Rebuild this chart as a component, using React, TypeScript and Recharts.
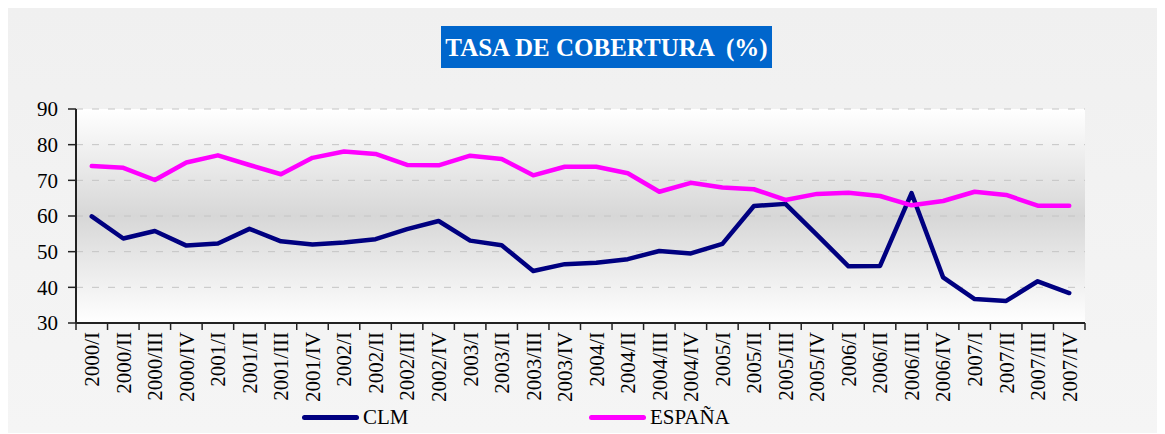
import { LineChart, Line, XAxis, YAxis, CartesianGrid } from 'recharts'

const quarters = [
  '2000/I', '2000/II', '2000/III', '2000/IV',
  '2001/I', '2001/II', '2001/III', '2001/IV',
  '2002/I', '2002/II', '2002/III', '2002/IV',
  '2003/I', '2003/II', '2003/III', '2003/IV',
  '2004/I', '2004/II', '2004/III', '2004/IV',
  '2005/I', '2005/II', '2005/III', '2005/IV',
  '2006/I', '2006/II', '2006/III', '2006/IV',
  '2007/I', '2007/II', '2007/III', '2007/IV',
]

const clm = [
  59.9, 53.7, 55.8, 51.7, 52.3, 56.4, 52.9, 52.0,
  52.6, 53.5, 56.3, 58.6, 53.1, 51.8, 44.6, 46.5,
  46.9, 47.9, 50.2, 49.5, 52.2, 62.8, 63.4, 54.7,
  45.9, 46.0, 66.4, 42.8, 36.7, 36.2, 41.7, 38.4,
]

const espana = [
  74.0, 73.5, 70.1, 75.0, 77.0, 74.3, 71.7, 76.3,
  78.1, 77.4, 74.3, 74.2, 76.9, 76.0, 71.4, 73.8,
  73.8, 72.0, 66.8, 69.3, 68.0, 67.5, 64.5, 66.2,
  66.5, 65.6, 63.0, 64.2, 66.8, 65.9, 62.9, 62.9,
]

const yTicks = [30, 40, 50, 60, 70, 80, 90]

const data = quarters.map((q, i) => ({ q, CLM: clm[i], 'ESPAÑA': espana[i] }))

const W = 1157
const H = 425
const M = { top: 101, right: 80, left: 0, bottom: 0 }
const Y_W = 68
const PLOT_W = W - M.left - M.right - Y_W
const BAND = PLOT_W / quarters.length
const FONT = 'Liberation Serif, Tinos, DejaVu Serif, Times New Roman, serif'

function QuarterTick(props: any) {
  const { x, y, payload, index } = props
  const h = BAND / 2
  return (
    <g>
      <line x1={x - h} y1={y} x2={x - h} y2={y + 7} stroke="#222" strokeWidth={1.5} />
      {index === quarters.length - 1 && (
        <line x1={x + h} y1={y} x2={x + h} y2={y + 7} stroke="#222" strokeWidth={1.5} />
      )}
      <text
        transform={`translate(${x},${y + 9}) rotate(-90)`}
        textAnchor="end"
        dy="0.35em"
        style={{ fontFamily: FONT, fontSize: 21 }}
        fill="#000"
      >
        {payload.value}
      </text>
    </g>
  )
}

function ValueTick(props: any) {
  const { x, y, payload } = props
  return (
    <text
      x={x}
      y={y}
      dy="0.35em"
      textAnchor="end"
      style={{ fontFamily: FONT, fontSize: 21 }}
      fill="#000"
    >
      {payload.value}
    </text>
  )
}

export default function App() {
  return (
    <div
      style={{
        position: 'relative',
        width: W,
        height: H,
        background: 'linear-gradient(#f0f0f0, #f5f5f5)',
      }}
    >
      <div
        style={{
          position: 'absolute',
          left: 433,
          top: 18,
          width: 331,
          height: 42,
          background: '#0066cc',
          color: '#fff',
          fontFamily: FONT,
          fontWeight: 'bold',
          fontSize: 25,
          lineHeight: '43px',
          textAlign: 'center',
          whiteSpace: 'pre',
        }}
      >
        {'TASA DE COBERTURA  (%)'}
      </div>
      <LineChart width={W} height={H} data={data} margin={M}>
        <defs>
          <linearGradient id="plotBg" x1="0" y1="0" x2="0" y2="1">
            <stop offset="0%" stopColor="#ffffff" />
            <stop offset="50%" stopColor="#d7d7d7" />
            <stop offset="100%" stopColor="#ffffff" />
          </linearGradient>
        </defs>
        <CartesianGrid
          vertical={false}
          fill="url(#plotBg)"
          stroke="#c4c4c4"
          strokeDasharray="7 9"
        />
        <XAxis
          dataKey="q"
          interval={0}
          height={110}
          padding={{ left: BAND / 2, right: BAND / 2 }}
          tickSize={0}
          tickMargin={0}
          tickLine={false}
          axisLine={{ stroke: '#222', strokeWidth: 2 }}
          tick={<QuarterTick />}
        />
        <XAxis
          xAxisId="top"
          dataKey="q"
          orientation="top"
          height={0}
          padding={{ left: BAND / 2, right: BAND / 2 }}
          tick={false}
          tickLine={false}
          axisLine={{ stroke: '#888', strokeWidth: 2 }}
        />
        <YAxis
          domain={[30, 90]}
          ticks={yTicks}
          width={Y_W}
          tickSize={8}
          tickMargin={10}
          tickLine={{ stroke: '#222', strokeWidth: 1.5 }}
          axisLine={{ stroke: '#222', strokeWidth: 2 }}
          tick={<ValueTick />}
        />
        <YAxis
          yAxisId="right"
          orientation="right"
          domain={[30, 90]}
          width={0}
          tick={false}
          tickLine={false}
          axisLine={{ stroke: '#888', strokeWidth: 2 }}
        />
        <Line
          type="linear"
          dataKey="CLM"
          stroke="#000080"
          strokeWidth={4.5}
          strokeLinejoin="round"
          strokeLinecap="round"
          dot={false}
          activeDot={false}
          isAnimationActive={false}
        />
        <Line
          type="linear"
          dataKey="ESPAÑA"
          stroke="#ff00ff"
          strokeWidth={4.5}
          strokeLinejoin="round"
          strokeLinecap="round"
          dot={false}
          activeDot={false}
          isAnimationActive={false}
        />
      </LineChart>
      {[
        { name: 'CLM', color: '#000080', left: 294 },
        { name: 'ESPAÑA', color: '#ff00ff', left: 581 },
      ].map((s) => (
        <div
          key={s.name}
          style={{
            position: 'absolute',
            left: s.left,
            top: 397,
            height: 24,
            display: 'flex',
            alignItems: 'center',
            fontFamily: FONT,
            fontSize: 21,
            color: '#000',
          }}
        >
          <span
            style={{
              display: 'inline-block',
              width: 57,
              height: 5,
              borderRadius: 3,
              background: s.color,
              marginRight: 4,
            }}
          />
          <span style={{ fontFamily: FONT }}>{s.name}</span>
        </div>
      ))}
    </div>
  )
}
